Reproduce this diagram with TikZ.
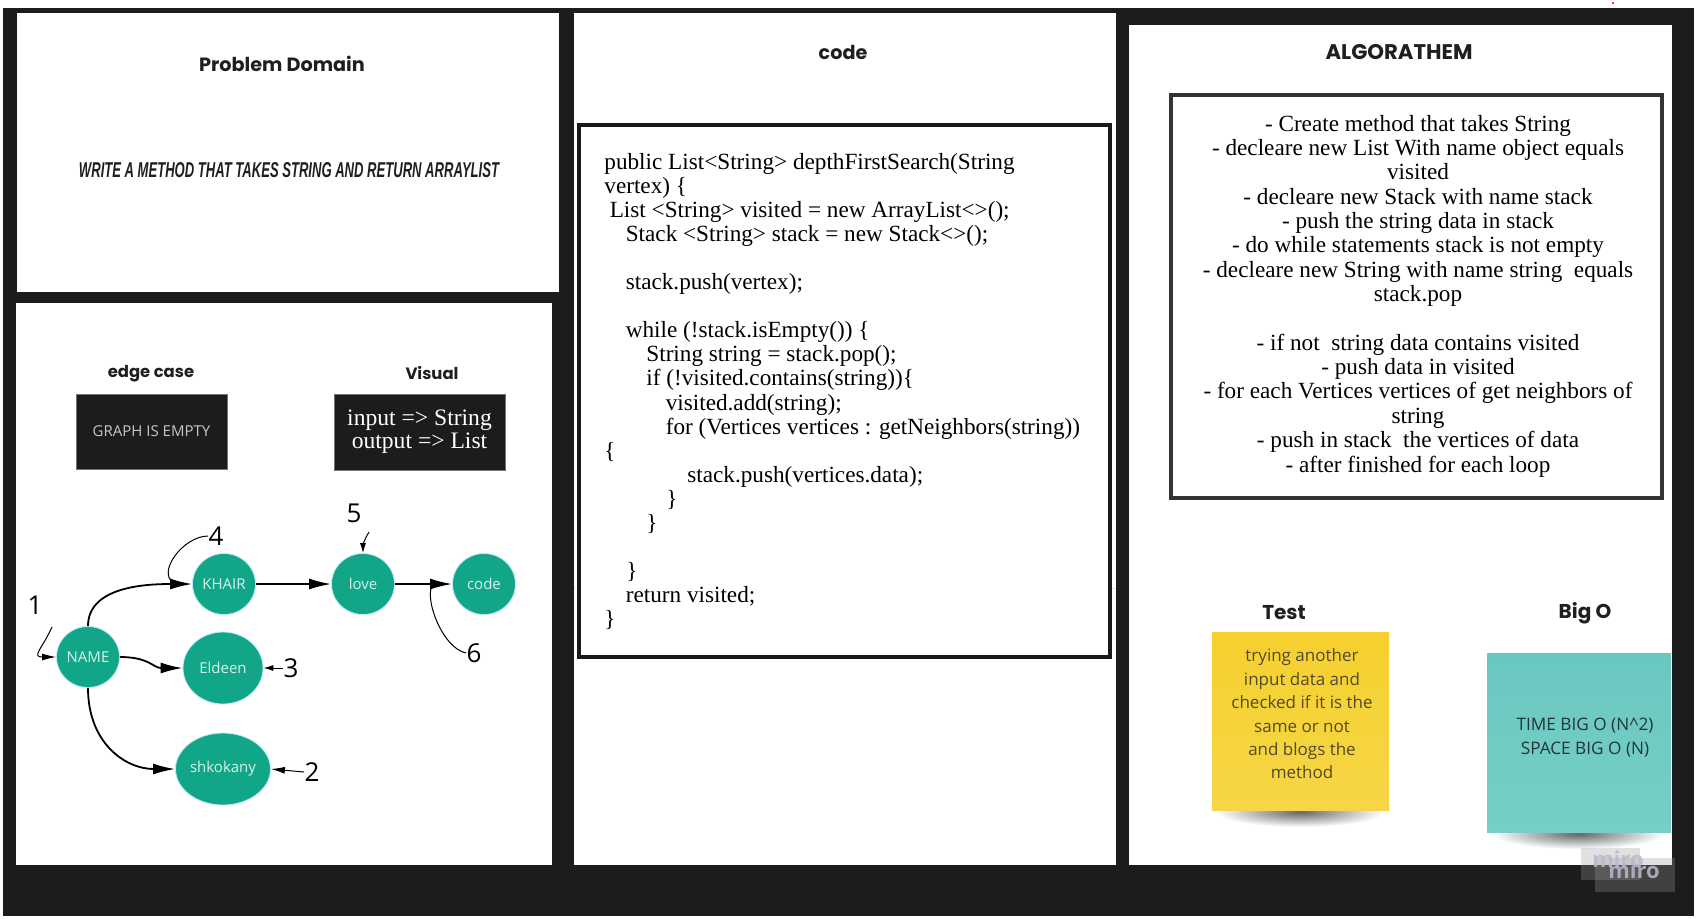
\documentclass[tikz,border=0pt]{standalone}
\usepackage{graphicx}
\usepackage{fontspec}
\setmainfont{Liberation Serif}
\setsansfont{Open Sans}
\newfontfamily\headfont{Poppins}
\newfontfamily\taskfont{Liberation Sans}
\usetikzlibrary{positioning,arrows.meta,calc,shapes.geometric}
\definecolor{dfsFrame}{RGB}{28,28,28}
\definecolor{dfsTeal}{RGB}{18,166,136}
\definecolor{dfsLabel}{RGB}{214,242,234}
\definecolor{dfsYellow}{RGB}{245,208,46}
\definecolor{dfsYellowLow}{RGB}{246,214,70}
\definecolor{dfsAqua}{RGB}{106,199,191}
\definecolor{dfsAquaLow}{RGB}{118,207,199}
\definecolor{dfsNoteInk}{RGB}{82,74,40}
\definecolor{dfsAquaInk}{RGB}{30,56,56}
\definecolor{dfsMiro}{RGB}{185,185,204}

\begin{document}
\begin{tikzpicture}[x=0.5pt,y=-0.5pt,
  heading/.style={font=\headfont\bfseries\fontsize{10}{12}\selectfont, text=black!88, inner sep=0pt},
  vertex/.style={ellipse, fill=dfsTeal, draw=cyan!25, line width=0.4pt, inner sep=0pt,
    text=dfsLabel, font=\sffamily\fontsize{7.5}{9}\selectfont},
  edge/.style={-{Latex[length=11pt,width=5.5pt]}, line width=0.9pt},
  annot/.style={line width=0.5pt},
  stepnum/.style={font=\sffamily\fontsize{13}{15}\selectfont, inner sep=0pt}]
  \useasboundingbox (0,0) rectangle (1701,918);

  % Board and panels
  \fill[dfsFrame] (3,8) rectangle (1694,916);
  \fill[white] (17,13) rectangle (559,292);
  \fill[white] (16,303) rectangle (552,865);
  \fill[white] (574,13) rectangle (1116,865);
  \fill[white] (1129,25) rectangle (1672,865);
  \fill[red!85!black] (1613,3) circle (1.2);

  % Problem domain
  \node[heading, font=\headfont\bfseries\fontsize{9.6}{12}\selectfont] (pdTitle) at (282,64) {Problem Domain};
  \node[inner sep=0pt, text=black!88] (pdTask) at (289,170)
    {\resizebox{210pt}{7.5pt}{\taskfont\bfseries\itshape WRITE A METHOD THAT TAKES STRING AND RETURN ARRAYLIST}};

  % Edge case and visual
  \node[heading, font=\headfont\bfseries\fontsize{8.2}{10}\selectfont] (edgeTitle) at (151,374) {edge case};
  \node[heading, font=\headfont\bfseries\fontsize{8.2}{10}\selectfont] (visualTitle) at (432,373) {Visual};
  \node[fill=dfsFrame, draw=black!55, minimum width=75.5pt, minimum height=37.5pt,
    text=black!22, font=\sffamily\fontsize{7.5}{8}\selectfont] (emptyBox) at (151.5,431.5) {GRAPH IS EMPTY};
  \node[fill=dfsFrame, draw=black!55, minimum width=85.5pt, minimum height=38pt, inner sep=0pt,
    text=white, align=center, font=\fontsize{11.8}{11.5}\selectfont] (visualBox) at (419.5,432)
    {input => String\\output => List};

  % Graph
  \node[vertex, minimum width=31.5pt, minimum height=30.5pt] (name) at (88,657) {NAME};
  \foreach \nm/\lbl/\x in {khair/KHAIR/224, love/love/363, code/code/484}
    \node[vertex, minimum width=31.5pt, minimum height=30.5pt] (\nm) at (\x,584) {\lbl};
  \node[vertex, minimum width=40pt, minimum height=36pt] (eldeen) at (223,668) {Eldeen};
  \node[vertex, minimum width=47.5pt, minimum height=36pt] (shkokany) at (223,769) {shkokany};

  \draw[edge] (name.north) .. controls +(0,-40) and +(-45,0) .. (khair.west);
  \draw[edge] (name.east) .. controls +(30,0) and +(-30,0) .. (eldeen.west);
  \draw[edge] (name.south) .. controls +(0,55) and +(-50,0) .. (shkokany.west);
  \draw[edge] (khair) -- (love);
  \draw[edge] (love) -- (code);

  % Visiting order
  \node[stepnum] (n1) at (35,605) {1};
  \node[stepnum] (n2) at (312,772) {2};
  \node[stepnum] (n3) at (291,668) {3};
  \node[stepnum] (n4) at (216,536) {4};
  \node[stepnum] (n5) at (354,513) {5};
  \node[stepnum] (n6) at (474,653) {6};
  \coordinate (a1) at (52,627);
  \coordinate (a5) at (369,532);
  \coordinate (k4) at (174,583);
  \coordinate (k6) at (434,583);
  \draw[annot, -{Latex[length=7pt,width=3.5pt]}] (a1) .. controls +(-10,22) and +(-25,0) .. (name.west);
  \draw[annot, -{Latex[length=7pt,width=3.5pt]}] (n2.west) -- (shkokany.east);
  \draw[annot, -{Latex[length=5pt,width=3pt]}] (n3.west) -- (eldeen.east);
  \draw[annot] (n4.west) .. controls +(-25,0) and +(-18,-10) .. (k4);
  \draw[annot, -{Latex[length=5pt,width=3pt]}] (a5) .. controls +(-4,6) and +(0,-8) .. (love.north);
  \draw[annot] (n6.west) .. controls +(-25,-5) and +(-12,10) .. (k6);

  % Code panel
  \node[heading, font=\headfont\bfseries\fontsize{9.6}{12}\selectfont] (codeTitle) at (843,52) {code};
  \draw[black!10] (574,588) -- (1116,588);
  \draw[line width=1.6pt, draw=black!90, fill=white] (579,125) rectangle (1110,657);
  \node[anchor=north west, align=left, inner sep=0pt, font=\fontsize{11.6}{12.05}\selectfont] (codeText) at (604,152.5)
    {public List<String> depthFirstSearch(String\\
     vertex) \{\\
     \hspace*{2.7pt}List <String> visited = new ArrayList<>();\\
     \hspace*{10.7pt}Stack <String> stack = new Stack<>();\\[12.05pt]
     \hspace*{10.7pt}stack.push(vertex);\\[12.05pt]
     \hspace*{10.7pt}while (!stack.isEmpty()) \{\\
     \hspace*{21pt}String string = stack.pop();\\
     \hspace*{21pt}if (!visited.contains(string))\{\\
     \hspace*{30.7pt}visited.add(string);\\
     \hspace*{30.7pt}for (Vertices vertices : getNeighbors(string))\\
     \{\\
     \hspace*{41.5pt}stack.push(vertices.data);\\
     \hspace*{31pt}\}\\
     \hspace*{21pt}\}\\[12.05pt]
     \hspace*{11pt}\}\\
     \hspace*{10.7pt}return visited;\\
     \}};

  % Algorithm panel
  \node[heading, font=\headfont\bfseries\fontsize{10.6}{12}\selectfont] (algTitle) at (1399,52) {ALGORATHEM};
  \draw[line width=1.6pt, draw=black!80] (1171,95) rectangle (1662,498);
  \node[anchor=north, align=center, inner sep=0pt, font=\fontsize{11.6}{12.18}\selectfont] (algText) at (1418,114.5)
    {- Create method that takes String\\
     - decleare new List With name object equals\\
     visited\\
     - decleare new Stack with name stack\\
     - push the string data in stack\\
     - do while statements stack is not empty\\
     - decleare new String with name string~ equals\\
     stack.pop\\[12.18pt]
     - if not~ string data contains visited\\
     - push data in visited\\
     - for each Vertices vertices of get neighbors of\\
     string\\
     - push in stack~ the vertices of data\\
     - after finished for each loop};

  % Test and Big O notes
  \node[heading] (testTitle) at (1284,613) {Test};
  \node[heading] (bigoTitle) at (1585,613) {Big O};
  \shade[inner color=black!60, outer color=white] (1300,812) ellipse (84 and 15);
  \shade[inner color=black!60, outer color=white] (1578,834) ellipse (86 and 15);
  \node[top color=dfsYellow, bottom color=dfsYellowLow, minimum width=88.5pt, minimum height=89pt] (testNote) at (1300.5,721) {};
  \node[top color=dfsAqua, bottom color=dfsAquaLow, minimum width=92pt, minimum height=89.5pt] (bigoNote) at (1579,742.5) {};
  \node[align=center, text=dfsNoteInk, font=\sffamily\fontsize{8.5}{11.7}\selectfont] (testText) at (1302,714)
    {trying another\\input data and\\checked if it is the\\same or not\\and blogs the\\method};
  \node[align=center, text=dfsAquaInk, font=\sffamily\fontsize{8.6}{12}\selectfont] (bigoText) at (1585,738)
    {TIME BIG O (N\textasciicircum2)\\SPACE BIG O (N)};

  % Watermark
  \fill[gray!80!white, opacity=0.3] (1581,848) rectangle (1640,880);
  \fill[gray!80!white, opacity=0.3] (1595,858) rectangle (1675,892);
  \node[text=dfsMiro, opacity=0.85, font=\sffamily\bfseries\fontsize{11}{11}\selectfont, inner sep=0pt] (miroA) at (1618,859) {miro};
  \node[text=dfsMiro, opacity=0.85, font=\sffamily\bfseries\fontsize{11}{11}\selectfont, inner sep=0pt] (miroB) at (1634,870) {miro};
\end{tikzpicture}
\end{document}
